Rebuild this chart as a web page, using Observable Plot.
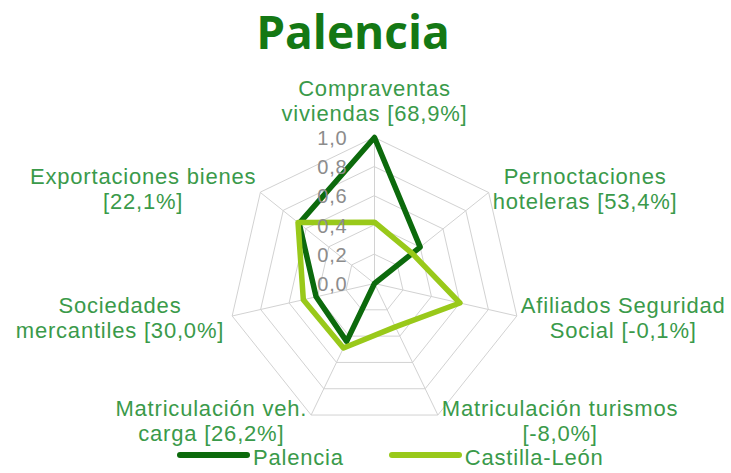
<!DOCTYPE html>
<html>
<head>
<meta charset="utf-8">
<script src="https://cdn.jsdelivr.net/npm/d3@7"></script>
<script src="https://cdn.jsdelivr.net/npm/@observablehq/plot@0.6"></script>
<style>
  body { margin: 0; background: #fff; }
  #wrap { width: 731px; height: 473px; overflow: hidden; position: relative; }
  #title { height: 62px; font: bold 46px "Open Sans", sans-serif; color: #147814; text-align: center;
           padding-right: 25px; box-sizing: border-box; line-height: 62px; }
  #legend { height: 31px; display: flex; align-items: center; padding-left: 177px; box-sizing: border-box;
            font: 22px "Liberation Sans", Arial, sans-serif; letter-spacing: 0.8px; color: #3a9a4a; line-height: 26px; }
  .item { display: flex; align-items: center; margin-right: 45px; }
  .sw { width: 73px; height: 6px; border-radius: 3px; margin-right: 3px; position: relative; top: -3px; }
  svg text { letter-spacing: 0.8px; }
</style>
</head>
<body>
<div id="wrap">
  <div id="title"></div>
  <div id="chart"></div>
  <div id="legend"></div>
</div>
<script>
// ---- data ----
const titleText = "Palencia";
const categories = [
  "Compraventas\nviviendas [68,9%]",
  "Pernoctaciones\nhoteleras [53,4%]",
  "Afiliados Seguridad\nSocial [-0,1%]",
  "Matriculación turismos\n[-8,0%]",
  "Matriculación veh.\ncarga [26,2%]",
  "Sociedades\nmercantiles [30,0%]",
  "Exportaciones bienes\n[22,1%]"
];
const seriesNames = ["Palencia", "Castilla-León"];
const palenciaValues = [1.0, 0.40, 0.0, 0.0, 0.44, 0.41, 0.66];
const castillaValues = [0.42, 0.33, 0.60, 0.33, 0.49, 0.50, 0.67];
const tickValues = [0, 0.2, 0.4, 0.6, 0.8, 1.0];

// ---- layout / style ----
const seriesColors = ["#0c6a0c", "#99c91a"];
const labelColor = "#3a9a4a";
const W = 731, H = 380;
const Rpx = 146;              // pixel radius of value 1.0
const cx = 374, cy = 221;     // centre of the radar in svg pixels
const labelFontPx = 22, labelLinePx = 25, letterSp = 0.8;

document.getElementById("title").textContent = titleText;

const n = categories.length;
const ang = i => 2 * Math.PI * i / n;
const pt = (i, r) => ({x: r * Math.sin(ang(i)), y: r * Math.cos(ang(i))});

// grid rings and spokes
const rings = tickValues.filter(v => v > 0);
const ringPts = rings.flatMap(r => categories.map((c, i) => ({ring: r, ...pt(i, r)})));
const spokes = categories.map((c, i) => ({x1: 0, y1: 0, x2: pt(i, 1).x, y2: pt(i, 1).y}));

// series points
const seriesValues = [palenciaValues, castillaValues];
const seriesPts = seriesNames.flatMap((s, k) => seriesValues[k].map((v, i) => ({series: s, ...pt(i, v)})));

// axis labels, positioned beside their vertex using measured text width
const ctx = document.createElement("canvas").getContext("2d");
ctx.font = `${labelFontPx}px "Liberation Sans", Arial, sans-serif`;
const labelPts = categories.map((c, i) => {
  const lines = c.split("\n");
  const w = Math.max(...lines.map(l => ctx.measureText(l).width + letterSp * l.length));
  const s = Math.sin(ang(i)), co = Math.cos(ang(i));
  const v = pt(i, 1);
  let dxp, dyp;
  if (Math.abs(s) < 0.1) { dxp = 0; dyp = -(labelLinePx + 12) * Math.sign(co); }
  else {
    const pad = s > 0 ? 4 : (Math.abs(co) > 0.5 ? 4 : 8);
    dxp = Math.sign(s) * (w / 2 + pad);
    dyp = -co * 6;
  }
  return {label: c, x: v.x + dxp / Rpx, y: v.y - dyp / Rpx};
});

const ticks = tickValues.map(v => ({x: 0, y: v, label: d3.format(".1f")(v).replace(".", ",")}));

const chart = Plot.plot({
  width: W, height: H,
  margin: 0,
  x: {type: "linear", domain: [-cx / Rpx, (W - cx) / Rpx], range: [0, W], axis: null},
  y: {type: "linear", domain: [-(H - cy) / Rpx, cy / Rpx], range: [H, 0], axis: null},
  color: {domain: seriesNames, range: seriesColors},
  style: {background: "transparent", overflow: "visible"},
  marks: [
    Plot.line(ringPts, {x: "x", y: "y", z: "ring", curve: "linear-closed", stroke: "#d2d2d2", strokeWidth: 1}),
    Plot.link(spokes, {x1: "x1", y1: "y1", x2: "x2", y2: "y2", stroke: "#d2d2d2", strokeWidth: 1}),
    Plot.line(seriesPts, {x: "x", y: "y", z: "series", stroke: "series", curve: "linear-closed",
      strokeWidth: 5.5, strokeLinejoin: "round"}),
    Plot.text(ticks, {x: "x", y: "y", text: "label", textAnchor: "end", dx: -27, dy: 1, fill: "#8c8c8c",
      fontSize: 20, fontFamily: "Liberation Sans, Arial, sans-serif"}),
    Plot.text(labelPts, {x: "x", y: "y", text: "label", textAnchor: "middle", lineAnchor: "middle",
      lineHeight: labelLinePx / labelFontPx, fill: labelColor, fontSize: labelFontPx,
      fontFamily: "Liberation Sans, Arial, sans-serif"})
  ]
});
document.getElementById("chart").appendChild(chart);

// legend
const legend = document.getElementById("legend");
seriesNames.forEach((s, k) => {
  const item = document.createElement("div");
  item.className = "item";
  const sw = document.createElement("div");
  sw.className = "sw";
  sw.style.background = seriesColors[k];
  const t = document.createElement("span");
  t.textContent = s;
  item.appendChild(sw); item.appendChild(t);
  legend.appendChild(item);
});
</script>
</body>
</html>
